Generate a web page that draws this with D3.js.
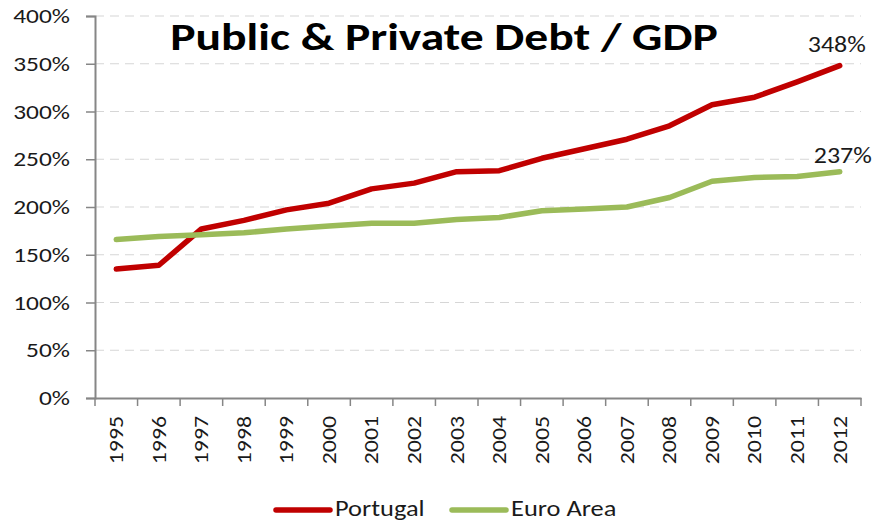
<!DOCTYPE html>
<html>
<head>
<meta charset="utf-8">
<script src="https://cdnjs.cloudflare.com/ajax/libs/d3/7.8.5/d3.min.js"></script>
<style>
  body { margin: 0; background: #fff; }
  svg { display: block; }
</style>
</head>
<body>
<svg id="chart"></svg>
<script>
let years = ['1995', '1996', '1997', '1998', '1999', '2000', '2001', '2002', '2003',
    '2004', '2005', '2006', '2007', '2008', '2009', '2010', '2011', '2012']
let portugal = [135, 139, 177, 186, 197, 204, 219, 225, 237, 238, 251, 261, 271, 285, 307, 315, 331, 348]
let euroArea = [166, 169, 171, 173, 177, 180, 183, 183, 187, 189, 196, 198, 200, 210, 227, 231, 232, 237]
let yTicks = [0, 50, 100, 150, 200, 250, 300, 350, 400]
let seriesNames = ['Portugal', 'Euro Area']
let seriesColors = ['#c00000', '#9bbb59']
let endLabels = ['348%', '237%']

let width = 873, height = 523
let margin = { left: 95, right: 12, top: 16, bottom: 125 }
let font = 'Carlito, Calibri, "Open Sans", sans-serif'
let textColor = '#1a1a1a'

let svg = d3.select('#chart')
    .attr('width', width)
    .attr('height', height)

// the original text is rendered a bit wider than Carlito, stretch it
function widen(sel, k) {
    sel.each(function() {
        let len = this.getComputedTextLength()
        d3.select(this)
            .attr('textLength', len * k)
            .attr('lengthAdjust', 'spacingAndGlyphs')
    })
}

let x = d3.scaleBand()
    .domain(years)
    .range([margin.left, width - margin.right])

let y = d3.scaleLinear()
    .domain([0, 400])
    .range([398, margin.top])

// grid
svg.append('g')
    .selectAll('line')
    .data(yTicks.filter(d => d > 0))
    .enter().append('line')
    .attr('x1', margin.left)
    .attr('x2', width - margin.right)
    .attr('y1', d => y(d))
    .attr('y2', d => y(d))
    .attr('stroke', '#d6d6d6')
    .attr('stroke-width', 1.2)
    .attr('stroke-dasharray', '9,6')

// y axis
let yAxis = svg.append('g')
    .attr('transform', 'translate(' + margin.left + ',0)')
    .call(d3.axisLeft(y).tickValues(yTicks).tickFormat(d => d + '%').tickSizeOuter(0).tickSize(9).tickPadding(16))
yAxis.select('.domain').attr('stroke', '#868686').attr('stroke-width', 2)
yAxis.selectAll('.tick line').attr('stroke', '#868686').attr('stroke-width', 1.5)
yAxis.selectAll('text')
    .attr('font-family', font)
    .attr('font-size', 21)
    .attr('fill', textColor)
    .call(widen, 1.21)

// x axis
let xAxis = svg.append('g')
    .attr('transform', 'translate(0,' + y(0) + ')')
    .call(d3.axisBottom(x).tickSize(0).tickSizeOuter(0))
xAxis.select('.domain').attr('stroke', '#868686').attr('stroke-width', 2)
xAxis.selectAll('.tick text')
    .attr('font-family', font)
    .attr('font-size', 19.5)
    .attr('fill', textColor)
    .attr('text-anchor', 'end')
    .attr('transform', 'rotate(-90)')
    .attr('x', -18)
    .attr('y', 0)
    .attr('dy', '0.35em')
    .call(widen, 1.22)
// category boundary ticks
let edges = years.map(d => x(d)).concat([x(years[years.length - 1]) + x.bandwidth()])
xAxis.append('g')
    .selectAll('line')
    .data(edges)
    .enter().append('line')
    .attr('x1', d => d)
    .attr('x2', d => d)
    .attr('y1', 0)
    .attr('y2', 8)
    .attr('stroke', '#868686')
    .attr('stroke-width', 1.5)

// lines
let line = d3.line()
    .x((d, i) => x(years[i]) + x.bandwidth() / 2)
    .y(d => y(d))

let allSeries = [portugal, euroArea]
svg.append('g')
    .selectAll('path')
    .data(allSeries)
    .enter().append('path')
    .attr('d', d => line(d))
    .attr('fill', 'none')
    .attr('stroke', (d, i) => seriesColors[i])
    .attr('stroke-width', 5.5)
    .attr('stroke-linejoin', 'round')
    .attr('stroke-linecap', 'round')

// end labels
let lastX = x(years[years.length - 1]) + x.bandwidth() / 2
let labelDx = [-32, -26], labelDy = [-14, -9]
svg.append('g')
    .selectAll('text')
    .data(allSeries)
    .enter().append('text')
    .attr('x', (d, i) => lastX + labelDx[i])
    .attr('y', (d, i) => y(d[d.length - 1]) + labelDy[i])
    .attr('font-family', font)
    .attr('font-size', 22)
    .attr('fill', textColor)
    .text((d, i) => endLabels[i])
    .call(widen, 1.18)

// title
svg.append('text')
    .attr('x', 444)
    .attr('y', 50)
    .attr('text-anchor', 'middle')
    .attr('font-family', font)
    .attr('font-weight', 'bold')
    .attr('font-size', 39)
    .attr('fill', '#000')
    .text('Public & Private Debt / GDP')
    .call(widen, 1.22)

// legend
let legendX = [276, 452]
let legend = svg.append('g')
    .selectAll('g')
    .data(seriesNames)
    .enter().append('g')
    .attr('transform', (d, i) => 'translate(' + legendX[i] + ',510)')
legend.append('line')
    .attr('x1', 0)
    .attr('x2', 54)
    .attr('stroke', (d, i) => seriesColors[i])
    .attr('stroke-width', 5.5)
    .attr('stroke-linecap', 'round')
legend.append('text')
    .attr('x', 59)
    .attr('y', 6)
    .attr('font-family', font)
    .attr('font-size', 22)
    .attr('fill', textColor)
    .text(d => d)
    .call(widen, 1.2)
</script>
</body>
</html>
